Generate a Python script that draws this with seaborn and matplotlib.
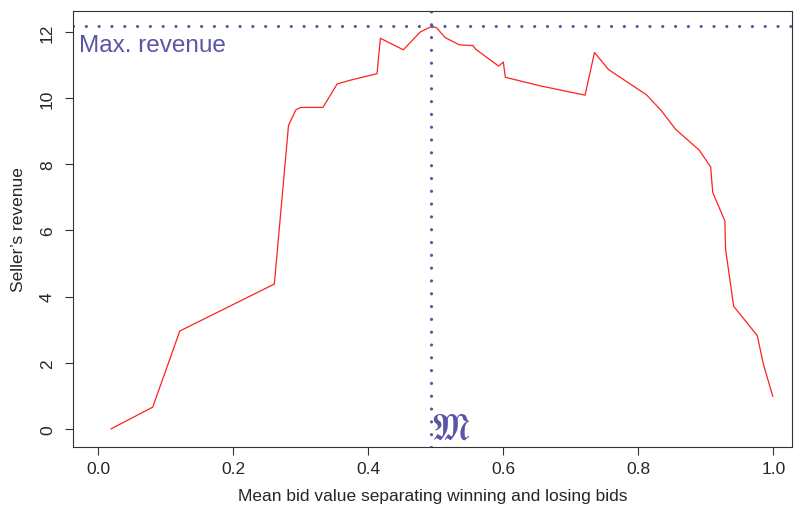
import numpy as np
import pandas as pd
import matplotlib
matplotlib.use("Agg")
import matplotlib.pyplot as plt
import seaborn as sns

# curve
bid = [0.019, 0.081, 0.121, 0.261, 0.282, 0.293, 0.300, 0.333, 0.354, 0.373,
       0.413, 0.418, 0.452, 0.477, 0.494, 0.501, 0.514, 0.535, 0.555, 0.559,
       0.593, 0.600, 0.603, 0.655, 0.721, 0.735, 0.756, 0.812, 0.834, 0.855,
       0.890, 0.907, 0.910, 0.928, 0.929, 0.941, 0.976, 0.985, 0.999]
revenue = [0.0, 0.66, 2.96, 4.38, 9.18, 9.65, 9.72, 9.72, 10.43, 10.54,
           10.74, 11.81, 11.46, 12.0, 12.17, 12.13, 11.83, 11.61, 11.59, 11.48,
           10.97, 11.09, 10.63, 10.37, 10.09, 11.38, 10.86, 10.1, 9.62, 9.06,
           8.43, 7.92, 7.15, 6.29, 5.44, 3.71, 2.82, 1.96, 0.98]
best_bid = 0.493
best_rev = 12.17
xticks = [0.0, 0.2, 0.4, 0.6, 0.8, 1.0]
yticks = [0, 2, 4, 6, 8, 10, 12]

df = pd.DataFrame({"bid": bid, "revenue": revenue})

sns.set_style("ticks")
plt.rcParams["font.family"] = ["Liberation Sans", "DejaVu Sans"]
plt.rcParams["mathtext.fontset"] = "stix"

fig = plt.figure(figsize=(7.94, 5.06), dpi=100)
ax = fig.add_axes([0.092, 0.115, 0.906, 0.861])

sns.lineplot(data=df, x="bid", y="revenue", color="#ff2020", lw=0.9, ax=ax)

mark = "#5a55a5"
dots = (0, (0.01, 4.0))
ax.axvline(best_bid, color=mark, lw=2.3, ls=dots, dash_capstyle="round")
ax.axhline(best_rev, color=mark, lw=2.3, ls=dots, dash_capstyle="round")
ax.text(-0.028, 11.6, "Max. revenue", color=mark, fontsize=17.5, va="center", ha="left")
ax.text(best_bid, -0.5, r"$\mathfrak{M}$", color=mark, fontsize=26, ha="left", va="bottom")

ax.set_xlim(-0.037, 1.028)
ax.set_ylim(-0.54, 12.63)
ax.set_xticks(xticks)
ax.set_yticks(yticks)
ax.set_xticklabels(["0.0", "0.2", "0.4", "0.6", "0.8", "1.0"])
ax.set_yticklabels([str(v) for v in yticks], rotation=90, va="center")
ax.tick_params(labelsize=12.5, length=6, width=0.8, color="#333333", pad=4)
ax.tick_params(axis="y", pad=7)
for s in ax.spines.values():
    s.set_visible(True)
    s.set_color("#333333")
    s.set_linewidth(0.8)
ax.set_xlabel("Mean bid value separating winning and losing bids", fontsize=12.5, labelpad=9)
ax.set_ylabel("Seller\u2019s revenue", fontsize=12.5, labelpad=10)

fig.savefig("out.png", dpi=100)
